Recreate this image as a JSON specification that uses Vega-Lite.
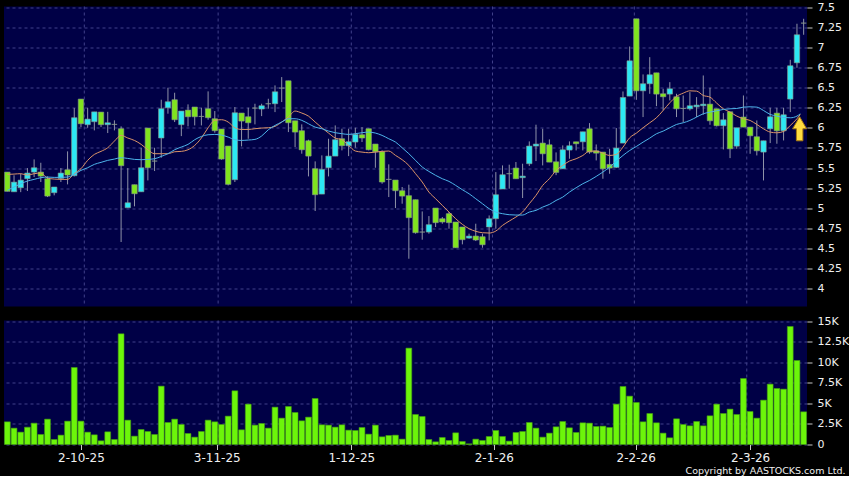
{"$schema":"https://vega.github.io/schema/vega-lite/v6.json","background":"#000000","padding":{"left":4,"top":0.5,"right":0,"bottom":0},"spacing":7,"config":{"view":{"fill":"#000046","stroke":null},"axis":{"labelFont":"DejaVu Sans","titleFont":"DejaVu Sans","labelColor":"#f0f0f0","tickColor":"#c8c8c8","domain":false,"gridColor":"#40408a","gridDash":[3,3],"gridWidth":1,"tickSize":5}},
"datasets":{
"dates":[{"i":11.5},{"i":31.5},{"i":51.4},{"i":72.5},{"i":93.7},{"i":110.5}],
"signal":[{"i":118.4,"p":5.989}],
"ma":[{"i":0,"fast":5.421,"slow":5.222},{"i":1,"fast":5.425,"slow":5.264},{"i":2,"fast":5.43,"slow":5.305},{"i":3,"fast":5.413,"slow":5.338},{"i":4,"fast":5.43,"slow":5.359},{"i":5,"fast":5.438,"slow":5.38},{"i":6,"fast":5.376,"slow":5.388},{"i":7,"fast":5.363,"slow":5.384},{"i":8,"fast":5.359,"slow":5.384},{"i":9,"fast":5.359,"slow":5.388},{"i":10,"fast":5.43,"slow":5.421},{"i":11,"fast":5.492,"slow":5.471},{"i":12,"fast":5.596,"slow":5.504},{"i":13,"fast":5.67,"slow":5.546},{"i":14,"fast":5.708,"slow":5.571},{"i":15,"fast":5.753,"slow":5.596},{"i":16,"fast":5.836,"slow":5.612},{"i":17,"fast":5.907,"slow":5.629},{"i":18,"fast":5.874,"slow":5.62},{"i":19,"fast":5.844,"slow":5.608},{"i":20,"fast":5.795,"slow":5.604},{"i":21,"fast":5.728,"slow":5.608},{"i":22,"fast":5.679,"slow":5.616},{"i":23,"fast":5.679,"slow":5.645},{"i":24,"fast":5.679,"slow":5.679},{"i":25,"fast":5.703,"slow":5.728},{"i":26,"fast":5.708,"slow":5.762},{"i":27,"fast":5.728,"slow":5.795},{"i":28,"fast":5.782,"slow":5.853},{"i":29,"fast":5.874,"slow":5.894},{"i":30,"fast":6.002,"slow":5.915},{"i":31,"fast":6.094,"slow":5.919},{"i":32,"fast":6.102,"slow":5.911},{"i":33,"fast":6.073,"slow":5.886},{"i":34,"fast":6.002,"slow":5.853},{"i":35,"fast":5.981,"slow":5.844},{"i":36,"fast":5.981,"slow":5.849},{"i":37,"fast":5.99,"slow":5.857},{"i":38,"fast":5.998,"slow":5.899},{"i":39,"fast":6.002,"slow":5.977},{"i":40,"fast":6.019,"slow":6.031},{"i":41,"fast":6.073,"slow":6.073},{"i":42,"fast":6.135,"slow":6.114},{"i":43,"fast":6.21,"slow":6.114},{"i":44,"fast":6.185,"slow":6.094},{"i":45,"fast":6.147,"slow":6.052},{"i":46,"fast":6.073,"slow":6.01},{"i":47,"fast":6.002,"slow":5.99},{"i":48,"fast":5.936,"slow":5.961},{"i":49,"fast":5.874,"slow":5.94},{"i":50,"fast":5.853,"slow":5.928},{"i":51,"fast":5.782,"slow":5.919},{"i":52,"fast":5.712,"slow":5.928},{"i":53,"fast":5.699,"slow":5.94},{"i":54,"fast":5.691,"slow":5.948},{"i":55,"fast":5.699,"slow":5.936},{"i":56,"fast":5.708,"slow":5.907},{"i":57,"fast":5.712,"slow":5.865},{"i":58,"fast":5.658,"slow":5.824},{"i":59,"fast":5.604,"slow":5.753},{"i":60,"fast":5.533,"slow":5.679},{"i":61,"fast":5.43,"slow":5.596},{"i":62,"fast":5.326,"slow":5.513},{"i":63,"fast":5.201,"slow":5.458},{"i":64,"fast":5.118,"slow":5.409},{"i":65,"fast":5.035,"slow":5.367},{"i":66,"fast":4.952,"slow":5.334},{"i":67,"fast":4.869,"slow":5.284},{"i":68,"fast":4.799,"slow":5.23},{"i":69,"fast":4.745,"slow":5.18},{"i":70,"fast":4.712,"slow":5.118},{"i":71,"fast":4.695,"slow":5.056},{"i":72,"fast":4.691,"slow":4.994},{"i":73,"fast":4.716,"slow":4.952},{"i":74,"fast":4.786,"slow":4.932},{"i":75,"fast":4.84,"slow":4.919},{"i":76,"fast":4.89,"slow":4.915},{"i":77,"fast":4.952,"slow":4.915},{"i":78,"fast":5.056,"slow":4.952},{"i":79,"fast":5.16,"slow":4.973},{"i":80,"fast":5.284,"slow":5.014},{"i":81,"fast":5.367,"slow":5.047},{"i":82,"fast":5.47,"slow":5.097},{"i":83,"fast":5.533,"slow":5.138},{"i":84,"fast":5.587,"slow":5.201},{"i":85,"fast":5.616,"slow":5.255},{"i":86,"fast":5.657,"slow":5.305},{"i":87,"fast":5.711,"slow":5.346},{"i":88,"fast":5.711,"slow":5.396},{"i":89,"fast":5.686,"slow":5.45},{"i":90,"fast":5.657,"slow":5.512},{"i":91,"fast":5.67,"slow":5.587},{"i":92,"fast":5.761,"slow":5.657},{"i":93,"fast":5.877,"slow":5.719},{"i":94,"fast":5.935,"slow":5.769},{"i":95,"fast":6.002,"slow":5.823},{"i":96,"fast":6.064,"slow":5.873},{"i":97,"fast":6.126,"slow":5.927},{"i":98,"fast":6.217,"slow":5.96},{"i":99,"fast":6.313,"slow":6.002},{"i":100,"fast":6.392,"slow":6.043},{"i":101,"fast":6.433,"slow":6.064},{"i":102,"fast":6.462,"slow":6.093},{"i":103,"fast":6.458,"slow":6.135},{"i":104,"fast":6.404,"slow":6.176},{"i":105,"fast":6.383,"slow":6.197},{"i":106,"fast":6.309,"slow":6.213},{"i":107,"fast":6.238,"slow":6.23},{"i":108,"fast":6.197,"slow":6.238},{"i":109,"fast":6.147,"slow":6.242},{"i":110,"fast":6.114,"slow":6.259},{"i":111,"fast":6.093,"slow":6.263},{"i":112,"fast":6.043,"slow":6.259},{"i":113,"fast":5.989,"slow":6.217},{"i":114,"fast":5.948,"slow":6.168},{"i":115,"fast":5.939,"slow":6.147},{"i":116,"fast":5.956,"slow":6.13},{"i":117,"fast":6.031,"slow":6.126},{"i":118,"fast":6.114,"slow":6.147},{"i":118.5,"fast":6.168,"slow":6.176}],
"candles":[
{"i":0,"o":5.45,"h":5.45,"l":5.21,"c":5.21,"v":2764,"d":"down"},
{"i":1,"o":5.205,"h":5.41,"l":5.205,"c":5.325,"v":1992,"d":"up"},
{"i":2,"o":5.255,"h":5.43,"l":5.2,"c":5.35,"v":1504,"d":"up"},
{"i":3,"o":5.367,"h":5.5,"l":5.214,"c":5.438,"v":2114,"d":"up"},
{"i":4,"o":5.45,"h":5.608,"l":5.388,"c":5.504,"v":2602,"d":"up"},
{"i":5,"o":5.45,"h":5.566,"l":5.326,"c":5.4,"v":1220,"d":"down"},
{"i":6,"o":5.367,"h":5.396,"l":5.139,"c":5.151,"v":3089,"d":"down"},
{"i":7,"o":5.193,"h":5.264,"l":5.16,"c":5.264,"v":610,"d":"up"},
{"i":8,"o":5.371,"h":5.5,"l":5.326,"c":5.438,"v":1138,"d":"up"},
{"i":9,"o":5.479,"h":5.708,"l":5.297,"c":5.413,"v":2846,"d":"down"},
{"i":10,"o":5.405,"h":6.247,"l":5.396,"c":6.127,"v":9390,"d":"up"},
{"i":11,"o":6.359,"h":6.359,"l":6.01,"c":6.052,"v":2846,"d":"down"},
{"i":12,"o":6.04,"h":6.251,"l":6.002,"c":6.11,"v":1504,"d":"up"},
{"i":13,"o":6.077,"h":6.2,"l":5.969,"c":6.2,"v":1179,"d":"up"},
{"i":14,"o":6.197,"h":6.197,"l":6.01,"c":6.04,"v":447,"d":"down"},
{"i":15,"o":6.04,"h":6.2,"l":5.936,"c":6.064,"v":1545,"d":"up"},
{"i":16,"o":6.044,"h":6.094,"l":5.969,"c":6.044,"v":610,"d":"flat"},
{"i":17,"o":5.99,"h":6.019,"l":4.579,"c":5.529,"v":13496,"d":"down"},
{"i":18,"o":5.006,"h":5.5,"l":5.006,"c":5.068,"v":2967,"d":"up"},
{"i":19,"o":5.293,"h":5.293,"l":5.023,"c":5.18,"v":1016,"d":"down"},
{"i":20,"o":5.205,"h":5.753,"l":5.205,"c":5.504,"v":1829,"d":"up"},
{"i":21,"o":5.998,"h":5.998,"l":5.346,"c":5.504,"v":1585,"d":"down"},
{"i":22,"o":5.587,"h":5.753,"l":5.463,"c":5.587,"v":1220,"d":"flat"},
{"i":23,"o":5.874,"h":6.351,"l":5.629,"c":6.239,"v":7114,"d":"up"},
{"i":24,"o":6.251,"h":6.5,"l":6.177,"c":6.326,"v":2683,"d":"up"},
{"i":25,"o":6.351,"h":6.438,"l":6.073,"c":6.102,"v":3089,"d":"down"},
{"i":26,"o":6.04,"h":6.21,"l":5.898,"c":6.21,"v":2439,"d":"up"},
{"i":27,"o":6.222,"h":6.293,"l":6.019,"c":6.139,"v":1341,"d":"down"},
{"i":28,"o":6.26,"h":6.26,"l":6.031,"c":6.139,"v":894,"d":"down"},
{"i":29,"o":6.143,"h":6.251,"l":6.031,"c":6.143,"v":1585,"d":"flat"},
{"i":30,"o":6.239,"h":6.455,"l":6.102,"c":6.127,"v":2967,"d":"down"},
{"i":31,"o":6.114,"h":6.21,"l":5.94,"c":5.965,"v":2764,"d":"down"},
{"i":32,"o":5.986,"h":5.986,"l":5.604,"c":5.612,"v":2439,"d":"down"},
{"i":33,"o":5.774,"h":5.774,"l":5.284,"c":5.297,"v":3455,"d":"down"},
{"i":34,"o":5.355,"h":6.26,"l":5.326,"c":6.189,"v":6545,"d":"up"},
{"i":35,"o":6.185,"h":6.185,"l":5.77,"c":6.085,"v":1789,"d":"down"},
{"i":36,"o":6.139,"h":6.251,"l":5.865,"c":6.064,"v":4919,"d":"down"},
{"i":37,"o":6.247,"h":6.301,"l":6.044,"c":6.247,"v":2358,"d":"flat"},
{"i":38,"o":6.235,"h":6.301,"l":6.147,"c":6.276,"v":2561,"d":"up"},
{"i":39,"o":6.301,"h":6.363,"l":6.239,"c":6.301,"v":1992,"d":"flat"},
{"i":40,"o":6.301,"h":6.529,"l":6.197,"c":6.45,"v":4553,"d":"up"},
{"i":41,"o":6.496,"h":6.633,"l":6.322,"c":6.496,"v":3211,"d":"flat"},
{"i":42,"o":6.587,"h":6.587,"l":5.948,"c":6.064,"v":4634,"d":"down"},
{"i":43,"o":6.089,"h":6.089,"l":5.762,"c":5.948,"v":3902,"d":"down"},
{"i":44,"o":5.965,"h":6.044,"l":5.679,"c":5.728,"v":2886,"d":"down"},
{"i":45,"o":5.84,"h":5.853,"l":5.396,"c":5.649,"v":3333,"d":"down"},
{"i":46,"o":5.492,"h":5.583,"l":4.965,"c":5.168,"v":5610,"d":"down"},
{"i":47,"o":5.176,"h":5.658,"l":5.176,"c":5.483,"v":2398,"d":"up"},
{"i":48,"o":5.504,"h":5.865,"l":5.396,"c":5.649,"v":2358,"d":"up"},
{"i":49,"o":5.649,"h":6.031,"l":5.649,"c":5.853,"v":2114,"d":"up"},
{"i":50,"o":5.865,"h":5.99,"l":5.72,"c":5.778,"v":2398,"d":"down"},
{"i":51,"o":5.778,"h":5.99,"l":5.649,"c":5.828,"v":1748,"d":"up"},
{"i":52,"o":5.824,"h":6.002,"l":5.753,"c":5.919,"v":1707,"d":"up"},
{"i":53,"o":5.915,"h":6.01,"l":5.824,"c":5.874,"v":2073,"d":"down"},
{"i":54,"o":5.99,"h":5.99,"l":5.72,"c":5.728,"v":1260,"d":"down"},
{"i":55,"o":5.799,"h":5.799,"l":5.504,"c":5.703,"v":2358,"d":"down"},
{"i":56,"o":5.703,"h":5.72,"l":5.305,"c":5.326,"v":935,"d":"down"},
{"i":57,"o":5.359,"h":5.546,"l":5.139,"c":5.359,"v":1098,"d":"flat"},
{"i":58,"o":5.351,"h":5.351,"l":5.002,"c":5.218,"v":1138,"d":"down"},
{"i":59,"o":5.218,"h":5.264,"l":5.056,"c":5.151,"v":650,"d":"down"},
{"i":60,"o":5.156,"h":5.293,"l":4.371,"c":4.882,"v":11748,"d":"down"},
{"i":61,"o":5.106,"h":5.106,"l":4.683,"c":4.695,"v":3659,"d":"down"},
{"i":62,"o":4.703,"h":4.96,"l":4.608,"c":4.703,"v":3415,"d":"flat"},
{"i":63,"o":4.703,"h":4.902,"l":4.683,"c":4.795,"v":610,"d":"up"},
{"i":64,"o":5.002,"h":5.002,"l":4.766,"c":4.82,"v":325,"d":"down"},
{"i":65,"o":4.869,"h":4.89,"l":4.807,"c":4.828,"v":854,"d":"down"},
{"i":66,"o":4.932,"h":4.952,"l":4.745,"c":4.82,"v":488,"d":"down"},
{"i":67,"o":4.828,"h":4.828,"l":4.508,"c":4.508,"v":1423,"d":"down"},
{"i":68,"o":4.766,"h":4.766,"l":4.55,"c":4.608,"v":366,"d":"down"},
{"i":69,"o":4.628,"h":4.683,"l":4.62,"c":4.653,"v":81,"d":"up"},
{"i":70,"o":4.653,"h":4.807,"l":4.591,"c":4.604,"v":650,"d":"down"},
{"i":71,"o":4.645,"h":4.683,"l":4.508,"c":4.545,"v":488,"d":"down"},
{"i":72,"o":4.766,"h":4.91,"l":4.6,"c":4.869,"v":976,"d":"up"},
{"i":73,"o":4.869,"h":5.45,"l":4.745,"c":5.168,"v":1707,"d":"up"},
{"i":74,"o":5.239,"h":5.533,"l":5.239,"c":5.417,"v":976,"d":"up"},
{"i":75,"o":5.43,"h":5.542,"l":5.243,"c":5.43,"v":407,"d":"flat"},
{"i":76,"o":5.5,"h":5.575,"l":5.367,"c":5.367,"v":1463,"d":"down"},
{"i":77,"o":5.38,"h":5.554,"l":5.127,"c":5.4,"v":1585,"d":"up"},
{"i":78,"o":5.554,"h":5.832,"l":5.525,"c":5.774,"v":2683,"d":"up"},
{"i":79,"o":5.774,"h":6.04,"l":5.587,"c":5.799,"v":1992,"d":"up"},
{"i":80,"o":5.811,"h":5.989,"l":5.533,"c":5.678,"v":894,"d":"down"},
{"i":81,"o":5.79,"h":5.857,"l":5.574,"c":5.574,"v":1382,"d":"down"},
{"i":82,"o":5.578,"h":5.695,"l":5.412,"c":5.446,"v":2154,"d":"down"},
{"i":83,"o":5.491,"h":5.782,"l":5.491,"c":5.728,"v":2805,"d":"up"},
{"i":84,"o":5.724,"h":5.832,"l":5.616,"c":5.778,"v":2033,"d":"up"},
{"i":85,"o":5.803,"h":5.827,"l":5.72,"c":5.827,"v":1463,"d":"down"},
{"i":86,"o":5.827,"h":5.952,"l":5.72,"c":5.952,"v":2642,"d":"up"},
{"i":87,"o":5.989,"h":6.06,"l":5.678,"c":5.699,"v":2602,"d":"down"},
{"i":88,"o":5.715,"h":5.794,"l":5.595,"c":5.686,"v":2195,"d":"down"},
{"i":89,"o":5.699,"h":5.699,"l":5.367,"c":5.491,"v":2236,"d":"down"},
{"i":90,"o":5.545,"h":5.74,"l":5.429,"c":5.5,"v":2073,"d":"down"},
{"i":91,"o":5.508,"h":5.998,"l":5.5,"c":5.749,"v":4919,"d":"up"},
{"i":92,"o":5.811,"h":6.454,"l":5.811,"c":6.379,"v":7073,"d":"up"},
{"i":93,"o":6.396,"h":7.014,"l":6.396,"c":6.836,"v":5894,"d":"up"},
{"i":94,"o":7.359,"h":7.359,"l":6.35,"c":6.462,"v":5122,"d":"down"},
{"i":95,"o":6.462,"h":6.666,"l":6.135,"c":6.55,"v":2764,"d":"up"},
{"i":96,"o":6.55,"h":6.881,"l":6.425,"c":6.662,"v":3780,"d":"up"},
{"i":97,"o":6.686,"h":6.686,"l":6.271,"c":6.421,"v":2642,"d":"down"},
{"i":98,"o":6.425,"h":6.487,"l":6.217,"c":6.388,"v":1382,"d":"down"},
{"i":99,"o":6.421,"h":6.57,"l":6.342,"c":6.487,"v":813,"d":"up"},
{"i":100,"o":6.388,"h":6.425,"l":6.135,"c":6.238,"v":3130,"d":"down"},
{"i":101,"o":6.242,"h":6.404,"l":6.072,"c":6.242,"v":2439,"d":"flat"},
{"i":102,"o":6.238,"h":6.446,"l":6.217,"c":6.276,"v":2276,"d":"up"},
{"i":103,"o":6.263,"h":6.384,"l":6.135,"c":6.284,"v":2805,"d":"up"},
{"i":104,"o":6.276,"h":6.653,"l":6.164,"c":6.296,"v":2276,"d":"up"},
{"i":105,"o":6.296,"h":6.5,"l":6.039,"c":6.089,"v":3496,"d":"down"},
{"i":106,"o":6.238,"h":6.238,"l":6.018,"c":6.027,"v":4919,"d":"down"},
{"i":107,"o":6.027,"h":6.184,"l":5.732,"c":6.101,"v":3780,"d":"up"},
{"i":108,"o":6.201,"h":6.201,"l":5.624,"c":5.74,"v":4309,"d":"down"},
{"i":109,"o":5.773,"h":6.002,"l":5.74,"c":6.002,"v":3659,"d":"up"},
{"i":110,"o":6.135,"h":6.404,"l":6.01,"c":6.01,"v":8049,"d":"down"},
{"i":111,"o":6.01,"h":6.01,"l":5.678,"c":5.902,"v":4024,"d":"down"},
{"i":112,"o":5.89,"h":6.093,"l":5.657,"c":5.715,"v":3211,"d":"down"},
{"i":113,"o":5.699,"h":5.84,"l":5.346,"c":5.84,"v":5407,"d":"up"},
{"i":114,"o":5.989,"h":6.251,"l":5.811,"c":6.139,"v":7358,"d":"up"},
{"i":115,"o":6.184,"h":6.251,"l":5.803,"c":5.964,"v":6829,"d":"down"},
{"i":116,"o":5.964,"h":6.251,"l":5.844,"c":6.164,"v":6748,"d":"up"},
{"i":117,"o":6.359,"h":6.848,"l":6.197,"c":6.774,"v":14390,"d":"up"},
{"i":118,"o":6.811,"h":7.297,"l":6.749,"c":7.16,"v":10244,"d":"up"},
{"i":119,"o":7.305,"h":7.359,"l":7.16,"c":7.305,"v":3984,"d":"flat"}
]},
"vconcat":[
{"width":803,"height":300,"layer":[
{"data":{"name":"dates"},"mark":{"type":"rule","color":"#40408a","strokeWidth":1,"strokeDash":[3,3]},"encoding":{"x":{"field":"i","type":"quantitative","scale":{"domain":[-0.5,119.5],"nice":false,"zero":false,"padding":0},"axis":null}}},
{"data":{"name":"candles"},"mark":{"type":"rule","color":"#8f93a8","strokeWidth":1},"encoding":{"x":{"field":"i","type":"quantitative","scale":{"domain":[-0.5,119.5],"nice":false,"zero":false,"padding":0},"axis":null},"y":{"field":"l","type":"quantitative","scale":{"domain":[3.776,7.512],"nice":false,"zero":false},"axis":{"orient":"right","title":null,"values":[4,4.25,4.5,4.75,5,5.25,5.5,5.75,6,6.25,6.5,6.75,7,7.25,7.5],"labelExpr":"format(datum.value,'.2~f')","labelOverlap":false,"labelSeparation":0,"tickCount":15,"grid":true,"labelFontSize":11,"labelPadding":5}},"y2":{"field":"h"}}},
{"data":{"name":"candles"},"mark":{"type":"bar","orient":"vertical","size":5.4,"stroke":"#8a9a8c","strokeWidth":0.6},"encoding":{"x":{"field":"i","type":"quantitative"},"y":{"field":"o","type":"quantitative"},"y2":{"field":"c"},"fill":{"field":"d","type":"nominal","legend":null,"scale":{"domain":["up","down","flat"],"range":["#2ce8f4","#80e41e","#8f93a8"]}}}},
{"data":{"name":"ma"},"mark":{"type":"line","color":"#dc9468","strokeWidth":1,"interpolate":"monotone"},"encoding":{"x":{"field":"i","type":"quantitative"},"y":{"field":"fast","type":"quantitative"}}},
{"data":{"name":"ma"},"mark":{"type":"line","color":"#4db4ea","strokeWidth":1,"interpolate":"monotone"},"encoding":{"x":{"field":"i","type":"quantitative"},"y":{"field":"slow","type":"quantitative"}}},
{"data":{"name":"signal"},"mark":{"type":"point","filled":true,"opacity":1,"size":576,"shape":"M0,-1 L0.58,0 L0.27,0 L0.27,1 L-0.27,1 L-0.27,0 L-0.58,0 Z","color":"#ffdc40","stroke":"#a87a10","strokeWidth":1},"encoding":{"x":{"field":"i","type":"quantitative"},"y":{"field":"p","type":"quantitative"}}}
]},
{"width":803,"height":124,"encoding":{"x":{"field":"i","type":"quantitative","scale":{"domain":[-0.5,119.5],"nice":false,"zero":false,"padding":0},"axis":{"values":[11,31.3,51.4,72.7,93.9,111],"labelExpr":"datum.value==11?'2-10-25':datum.value==31.3?'3-11-25':datum.value==51.4?'1-12-25':datum.value==72.7?'2-1-26':datum.value==93.9?'2-2-26':'2-3-26'","grid":false,"labelFontSize":12,"labelPadding":3,"title":"Copyright by AASTOCKS.com Ltd.","titleFontSize":9.5,"titleFontWeight":"normal","titleColor":"#f0f0f0","titleAlign":"right","titleAnchor":"end","titleX":841,"titleY":21}}},"layer":[
{"data":{"name":"dates"},"mark":{"type":"rule","color":"#40408a","strokeWidth":1,"strokeDash":[3,3]},"encoding":{}},
{"data":{"name":"candles"},"mark":{"type":"bar","orient":"vertical","size":5.8,"color":"#6cf50a","stroke":"#45a012","strokeWidth":0.6},"encoding":{"y":{"field":"v","type":"quantitative","scale":{"domain":[0,15120],"nice":false},"axis":{"orient":"right","title":null,"values":[0,2500,5000,7500,10000,12500,15000],"labelExpr":"datum.value==0?'0':datum.value/1000+'K'","labelOverlap":false,"grid":true,"labelFontSize":11,"labelPadding":5}}}}
]}
]}
